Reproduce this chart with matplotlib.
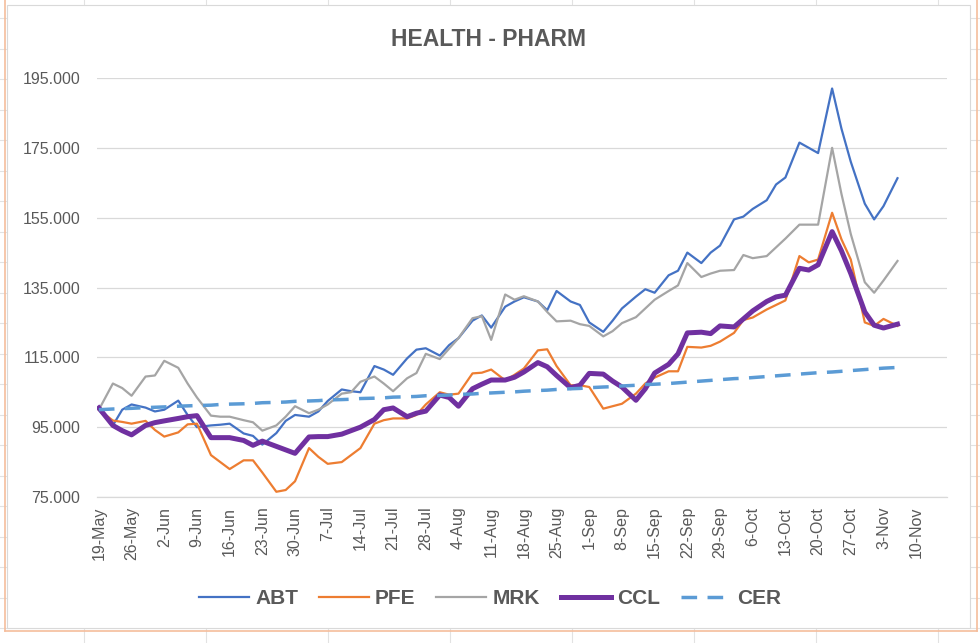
import matplotlib
matplotlib.use('Agg')
import matplotlib.pyplot as plt
from matplotlib.lines import Line2D
from matplotlib.patches import Rectangle
import numpy as np
import pandas as pd

plt.rcParams['font.family'] = ['Liberation Sans', 'DejaVu Sans']

# trading days sampled Mon/Wed/Fri, 19-May-2023 .. 6-Nov-2023
dates = pd.bdate_range('2023-05-19', '2023-11-06')
dates = dates[dates.dayofweek.isin([0, 2, 4])]

abt = [100, 95.5, 100, 101.5, 100.6, 99.5, 100, 102.6, 98.5, 95,
       95.5, 95.7, 96, 93.2, 92.5, 90, 93.3, 96.8, 98.5, 98, 99.5, 102.5,
       105.8, 105.3, 105, 112.5, 111.5, 110, 114.7, 117.2, 117.6, 115.5, 118.5, 120.5,
       125.5, 127, 123.5, 129.5, 131, 132.2, 131, 128.5, 134, 131, 130, 125,
       122.3, 125.5, 129, 132.4, 134.5, 133.5, 138.5, 139.8, 145, 142, 145, 147,
       154.5, 155.3, 157.5, 160, 164.5, 166.5, 176.5, 175, 173.5, 192, 180.5, 171,
       159, 154.5, 158.3, 166.3]

pfe = [100, 96.9, 96.5, 96, 96.8, 94.2, 92.3, 93.5, 95.8, 96,
       87, 85, 83, 85.5, 85.5, 82, 76.5, 77, 79.5, 89, 86.5, 84.5,
       85, 87, 89, 96, 97, 97.5, 97.5, 98.5, 101.5, 105, 104.3, 104.6,
       110.4, 110.6, 111.5, 108.4, 110, 111.8, 117, 117.3, 112.5, 107, 107, 106.5,
       100.3, 101, 101.7, 104.6, 107.5, 109.2, 111, 111, 118, 117.8, 118.3, 119.5,
       122, 125.7, 126.4, 128.7, 130, 131.3, 144, 142.2, 143, 156.4, 148.8, 143,
       125, 124, 126, 124]

mrk = [100, 107.5, 106.2, 104, 109.5, 109.8, 114, 112, 107.5, 103.5,
       98.3, 98, 98, 97, 96.4, 94, 95.5, 98, 101, 99, 100, 101.5,
       104.6, 105, 108, 109.5, 107.5, 105.3, 109, 110.5, 116, 114.5, 117.5, 120.5,
       126.2, 126.8, 120, 133, 131.5, 132.5, 131, 128, 125.3, 125.5, 124.5, 124,
       121, 122.5, 124.8, 126.5, 129, 131.5, 134, 135.6, 142, 138, 139, 139.8,
       140, 144.3, 143.4, 144, 146.5, 149, 153, 153, 153, 175, 161.8, 150.3,
       136.5, 133.5, 137, 142.6]

ccl = [100.5, 95.5, 94, 92.8, 95.5, 96.3, 96.8, 97.5, 98, 98.3,
       92, 92, 92, 91.2, 89.8, 91, 89.5, 88.5, 87.5, 92.2, 92.3, 92.3,
       93, 94, 95, 97.2, 100, 100.5, 98, 99, 99.6, 104.2, 103.5, 101,
       106, 107.3, 108.5, 108.5, 109.3, 110.8, 113.5, 112.3, 109.8, 106.3, 107, 110.4,
       110.2, 108.2, 106.5, 102.7, 106, 110.5, 113, 116, 122, 122.2, 121.8, 124,
       123.7, 126, 128.3, 131, 132.3, 132.8, 140.5, 140, 141.5, 151, 145.5, 139,
       128, 124.2, 123.4, 124.5]

cer = [100.0, 100.2, 100.3, 100.4, 100.6, 100.7, 100.8, 101.0, 101.1, 101.2,
       101.3, 101.5, 101.6, 101.7, 101.8, 102.0, 102.1, 102.2, 102.4, 102.5, 102.6, 102.8,
       102.9, 103.0, 103.2, 103.3, 103.4, 103.6, 103.7, 103.8, 104.0, 104.1, 104.2, 104.4,
       104.5, 104.7, 104.8, 105.0, 105.1, 105.3, 105.5, 105.6, 105.8, 106.0, 106.1, 106.3,
       106.5, 106.6, 106.8, 107.0, 107.2, 107.3, 107.5, 107.7, 107.9, 108.2, 108.4, 108.6,
       108.9, 109.0, 109.2, 109.5, 109.7, 109.9, 110.2, 110.4, 110.6, 110.8, 111.0, 111.2,
       111.5, 111.7, 111.9, 112.1]

tick_dates = pd.date_range('2023-05-19', '2023-11-10', freq='7D')
tick_labels = ['19-May', '26-May', '2-Jun', '9-Jun', '16-Jun', '23-Jun', '30-Jun',
               '7-Jul', '14-Jul', '21-Jul', '28-Jul', '4-Aug', '11-Aug', '18-Aug',
               '25-Aug', '1-Sep', '8-Sep', '15-Sep', '22-Sep', '29-Sep', '6-Oct',
               '13-Oct', '20-Oct', '27-Oct', '3-Nov', '10-Nov']
y_ticks = [75, 95, 115, 135, 155, 175, 195]

W, H = 980, 643
def fx(x):
    return x / W
def fy(y):
    return 1 - y / H

fig = plt.figure(figsize=(9.8, 6.43), dpi=100)

# spreadsheet cells behind the chart
for x in range(84, 980, 122):
    fig.add_artist(Line2D([fx(x), fx(x)], [0, 1], color='#E2E2E2', lw=0.8, zorder=-5))
for y in np.arange(18, 643, 30.5):
    fig.add_artist(Line2D([0, 1], [fy(y), fy(y)], color='#E2E2E2', lw=0.8, zorder=-5))

fig.add_artist(Rectangle((fx(7), fy(628)), fx(970) - fx(7), fy(5) - fy(628),
                         transform=fig.transFigure, facecolor='white',
                         edgecolor='#D9D9D9', lw=0.8, zorder=-4))
orange = '#F5BD9C'
fig.add_artist(Line2D([fx(4.5), fx(4.5)], [fy(631), 1], color=orange, lw=1.2, zorder=-3))
fig.add_artist(Line2D([fx(977), fx(977)], [fy(631), 1], color=orange, lw=1.2, zorder=-3))
fig.add_artist(Line2D([fx(4.5), fx(977)], [fy(631), fy(631)], color=orange, lw=1.2, zorder=-3))

ax = fig.add_axes([fx(97), fy(497), fx(947) - fx(97), fy(78) - fy(497)])
ax.set_facecolor('white')

ax.plot(dates, abt, color='#4472C4', lw=1.6, label='ABT')
ax.plot(dates, pfe, color='#ED7D31', lw=1.6, label='PFE')
ax.plot(dates, mrk, color='#A5A5A5', lw=1.6, label='MRK')
ax.plot(dates, ccl, color='#7030A0', lw=3.6, label='CCL', solid_joinstyle='round')
ax.plot(dates, cer, color='#5B9BD5', lw=2.5, dashes=(4.5, 3), label='CER')

start = pd.Timestamp('2023-05-19')
ax.set_xlim(start - pd.Timedelta(days=0.4), start + pd.Timedelta(days=181.6))
ax.set_ylim(75, 195)

ax.set_yticks(y_ticks)
ax.set_yticklabels([f'{v:.3f}' for v in y_ticks])
ax.set_xticks(tick_dates)
ax.set_xticklabels(tick_labels, rotation=90)
ax.tick_params(axis='y', length=0, pad=12, labelsize=11.5, labelcolor='#595959')
ax.tick_params(axis='x', length=0, pad=7, labelsize=11.5, labelcolor='#595959')

ax.grid(axis='y', color='#D9D9D9', lw=0.9)
ax.set_axisbelow(True)
for s in ['top', 'right', 'left']:
    ax.spines[s].set_visible(False)
ax.spines['bottom'].set_color('#D9D9D9')
ax.spines['bottom'].set_linewidth(0.9)

fig.text(fx(488), fy(39), 'HEALTH - PHARM', ha='center', va='center',
         fontsize=16.5, fontweight='bold', color='#595959')

fig.legend(loc='center', bbox_to_anchor=(fx(490), fy(599)), ncol=5, frameon=False,
           prop={'weight': 'bold', 'size': 15}, labelcolor='#595959',
           handlelength=2.4, handletextpad=0.3, columnspacing=1.0)

fig.savefig('out.png', dpi=100)
